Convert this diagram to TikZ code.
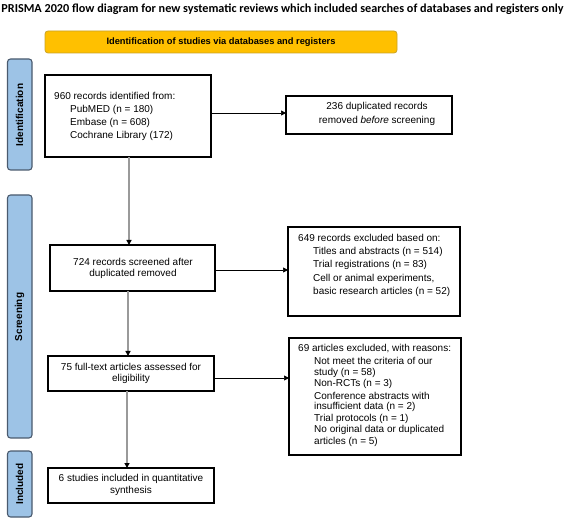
\documentclass[tikz,border=0pt]{standalone}
\usepackage{fontspec}
\setmainfont{Liberation Sans}
\newfontfamily\titlefont{Carlito}
\usetikzlibrary{arrows.meta}
\definecolor{gold}{HTML}{FFC000}
\definecolor{goldline}{HTML}{C9A227}
\definecolor{sideblue}{HTML}{9DC3E6}
\definecolor{sideline}{HTML}{4A5A6E}
\definecolor{vline}{HTML}{9A9A9A}
\tikzset{
  flowbox/.style={draw=black, line width=1.1pt, fill=white},
  sidebar/.style={draw=sideline, fill=sideblue, line width=1.1pt, rounded corners=3pt},
  sidelabel/.style={font=\bfseries\fontsize{10}{12}\selectfont, rotate=90},
  txt/.style={font=\fontsize{10}{12}\selectfont, inner sep=0pt},
  harrow/.style={-{Triangle[length=5pt,width=5pt]}, line width=0.7pt, black},
  varrow/.style={line width=1.3pt, vline,
    arrows={-{Triangle[length=5pt,width=5pt,color=black]}}},
}
\begin{document}
\begin{tikzpicture}[x=1pt,y=-1pt]
\useasboundingbox (0,0) rectangle (565,518);
% title
\node[font=\titlefont\bfseries\fontsize{12.2}{14}\selectfont, inner sep=0pt] (title) at (282.5,9) {PRISMA 2020 flow diagram for new systematic reviews which included searches of databases and registers only};
% yellow header
\draw[fill=gold, draw=goldline, line width=0.8pt, rounded corners=3pt] (45,31) rectangle (397,53);
\node[font=\bfseries\fontsize{9.3}{11}\selectfont, inner sep=0pt] (hdr) at (221,42) {Identification of studies via databases and registers};
% side bars
\draw[sidebar] (7.5,59) rectangle (32,170);
\node[sidelabel] (sideid) at (19.5,115) {Identification};
\draw[sidebar] (7.5,195) rectangle (32,438);
\node[sidelabel] (sidescr) at (19.5,317) {Screening};
\draw[sidebar] (7.5,451) rectangle (32,517);
\node[sidelabel] (sideinc) at (19.5,484) {Included};
% boxes
\draw[flowbox] (45,75) rectangle (211,157);
\node[txt, anchor=west] (b1a) at (54,96) {960 records identified from:};
\node[txt, anchor=west] (b1b) at (70,110) {PubMED (n = 180)};
\node[txt, anchor=west] (b1c) at (70,123) {Embase (n = 608)};
\node[txt, anchor=west] (b1d) at (70,136) {Cochrane Library (172)};

\draw[flowbox] (286,96) rectangle (452,134);
\node[txt, align=center] (b2a) at (377,107) {236 duplicated records};
\node[txt, align=center] (b2b) at (377,121) {removed \textit{before} screening};

\draw[flowbox] (50,245) rectangle (215,291);
\node[txt] (b3a) at (133,262) {724 records screened after};
\node[txt] (b3b) at (133,274) {duplicated removed};

\draw[flowbox] (288,227) rectangle (460,316);
\node[txt, anchor=west] (b4a) at (298,238) {649 records excluded based on:};
\node[txt, anchor=west] (b4b) at (313,252) {Titles and abstracts (n = 514)};
\node[txt, anchor=west] (b4c) at (313,265) {Trial registrations (n = 83)};
\node[txt, anchor=west] (b4d) at (313,279) {Cell or animal experiments,};
\node[txt, anchor=west] (b4e) at (313,292) {basic research articles (n = 52)};

\draw[flowbox] (48,356) rectangle (214,391);
\node[txt] (b5a) at (131,367) {75 full-text articles assessed for};
\node[txt] (b5b) at (131,379) {eligibility};

\draw[flowbox] (289,338) rectangle (461,455);
\node[txt, anchor=west] (b6a) at (298,349) {69 articles excluded, with reasons:};
\node[txt, anchor=west] (b6b) at (314,361) {Not meet the criteria of our};
\node[txt, anchor=west] (b6c) at (314,372.5) {study (n = 58)};
\node[txt, anchor=west] (b6d) at (314,384) {Non-RCTs (n = 3)};
\node[txt, anchor=west] (b6e) at (314,395.5) {Conference abstracts with};
\node[txt, anchor=west] (b6f) at (314,407) {insufficient data (n = 2)};
\node[txt, anchor=west] (b6g) at (314,418.5) {Trial protocols (n = 1)};
\node[txt, anchor=west] (b6h) at (314,430) {No original data or duplicated};
\node[txt, anchor=west] (b6i) at (314,441.5) {articles (n = 5)};

\draw[flowbox] (48,468) rectangle (214,503);
\node[txt] (b7a) at (131,479) {6 studies included in quantitative};
\node[txt] (b7b) at (131,491) {synthesis};

% named anchor coordinates
\coordinate (b1s) at (129,157);
\coordinate (b1e) at (211,113);
\coordinate (b2w) at (286,113);
\coordinate (b3n) at (129,245);
\coordinate (b3s) at (128,291);
\coordinate (b3e) at (215,270);
\coordinate (b4w) at (288,270);
\coordinate (b5n) at (128,356);
\coordinate (b5s) at (127,391);
\coordinate (b5e) at (214,378);
\coordinate (b6w) at (289,378);
\coordinate (b7n) at (127,468);

\draw[harrow] (b1e) -- (b2w);
\draw[harrow] (b3e) -- (b4w);
\draw[harrow] (b5e) -- (b6w);
\draw[varrow] (b1s) -- (b3n);
\draw[varrow] (b3s) -- (b5n);
\draw[varrow] (b5s) -- (b7n);
\end{tikzpicture}
\end{document}
